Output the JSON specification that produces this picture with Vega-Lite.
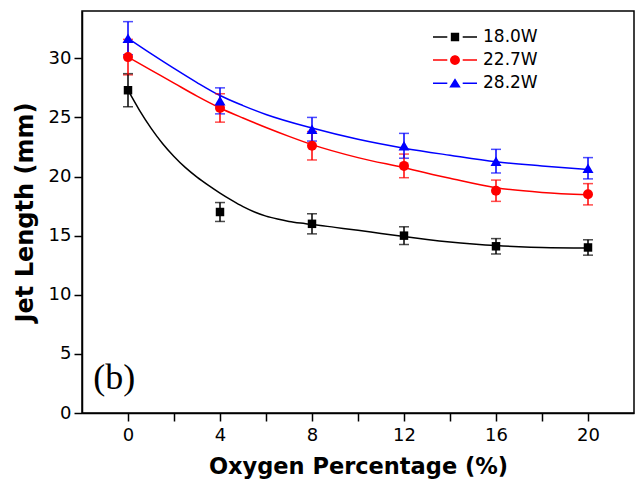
{
  "$schema": "https://vega.github.io/schema/vega-lite/v6.json",
  "width": 552,
  "height": 402,
  "autosize": {"type": "none"},
  "padding": {"left": 82, "top": 11, "right": 2, "bottom": 67},
  "config": {
    "font": "DejaVu Sans",
    "view": {"stroke": "#000000", "strokeWidth": 1.5},
    "axis": {
      "grid": false,
      "domainColor": "#000000",
      "domainWidth": 1.5,
      "tickColor": "#000000",
      "tickWidth": 1.5,
      "tickSize": 8,
      "labelColor": "#000000",
      "labelFont": "DejaVu Sans",
      "labelFontSize": 18,
      "labelOverlap": false,
      "labelFlush": false,
      "titleFont": "DejaVu Sans",
      "titleFontWeight": "bold",
      "titleColor": "#000000"
    }
  },
  "datasets": {
    "measured": [
      {"x": 0, "y": 27.3, "err": 1.4, "series": "18.0W"},
      {"x": 4, "y": 17.0, "err": 0.8, "series": "18.0W"},
      {"x": 8, "y": 16.0, "err": 0.85, "series": "18.0W"},
      {"x": 12, "y": 15.0, "err": 0.75, "series": "18.0W"},
      {"x": 16, "y": 14.1, "err": 0.65, "series": "18.0W"},
      {"x": 20, "y": 14.0, "err": 0.65, "series": "18.0W"},
      {"x": 0, "y": 30.1, "err": 1.5, "series": "22.7W"},
      {"x": 4, "y": 25.8, "err": 1.2, "series": "22.7W"},
      {"x": 8, "y": 22.6, "err": 1.2, "series": "22.7W"},
      {"x": 12, "y": 20.9, "err": 1.0, "series": "22.7W"},
      {"x": 16, "y": 18.8, "err": 0.9, "series": "22.7W"},
      {"x": 20, "y": 18.5, "err": 0.9, "series": "22.7W"},
      {"x": 0, "y": 31.7, "err": 1.4, "series": "28.2W"},
      {"x": 4, "y": 26.4, "err": 1.1, "series": "28.2W"},
      {"x": 8, "y": 24.0, "err": 1.0, "series": "28.2W"},
      {"x": 12, "y": 22.6, "err": 1.05, "series": "28.2W"},
      {"x": 16, "y": 21.3, "err": 1.0, "series": "28.2W"},
      {"x": 20, "y": 20.7, "err": 0.9, "series": "28.2W"}
    ],
    "fit": [
      {"x": 0, "y": 27.3, "series": "18.0W"},
      {"x": 0.5, "y": 25.6, "series": "18.0W"},
      {"x": 1, "y": 24.1, "series": "18.0W"},
      {"x": 1.5, "y": 22.8, "series": "18.0W"},
      {"x": 2, "y": 21.7, "series": "18.0W"},
      {"x": 2.5, "y": 20.75, "series": "18.0W"},
      {"x": 3, "y": 19.95, "series": "18.0W"},
      {"x": 3.5, "y": 19.25, "series": "18.0W"},
      {"x": 4, "y": 18.6, "series": "18.0W"},
      {"x": 4.5, "y": 18.0, "series": "18.0W"},
      {"x": 5, "y": 17.45, "series": "18.0W"},
      {"x": 5.5, "y": 17.0, "series": "18.0W"},
      {"x": 6, "y": 16.65, "series": "18.0W"},
      {"x": 6.5, "y": 16.4, "series": "18.0W"},
      {"x": 7, "y": 16.2, "series": "18.0W"},
      {"x": 7.5, "y": 16.06, "series": "18.0W"},
      {"x": 8, "y": 15.95, "series": "18.0W"},
      {"x": 9, "y": 15.7, "series": "18.0W"},
      {"x": 10, "y": 15.45, "series": "18.0W"},
      {"x": 11, "y": 15.18, "series": "18.0W"},
      {"x": 12, "y": 14.92, "series": "18.0W"},
      {"x": 13, "y": 14.68, "series": "18.0W"},
      {"x": 14, "y": 14.47, "series": "18.0W"},
      {"x": 15, "y": 14.3, "series": "18.0W"},
      {"x": 16, "y": 14.16, "series": "18.0W"},
      {"x": 17, "y": 14.06, "series": "18.0W"},
      {"x": 18, "y": 14.0, "series": "18.0W"},
      {"x": 20, "y": 13.96, "series": "18.0W"},
      {"x": 0, "y": 30.1, "series": "22.7W"},
      {"x": 1, "y": 29.0, "series": "22.7W"},
      {"x": 2, "y": 27.9, "series": "22.7W"},
      {"x": 3, "y": 26.8, "series": "22.7W"},
      {"x": 4, "y": 25.8, "series": "22.7W"},
      {"x": 5, "y": 24.95, "series": "22.7W"},
      {"x": 6, "y": 24.15, "series": "22.7W"},
      {"x": 7, "y": 23.4, "series": "22.7W"},
      {"x": 8, "y": 22.7, "series": "22.7W"},
      {"x": 10, "y": 21.6, "series": "22.7W"},
      {"x": 12, "y": 20.75, "series": "22.7W"},
      {"x": 14, "y": 19.85, "series": "22.7W"},
      {"x": 16, "y": 19.05, "series": "22.7W"},
      {"x": 18, "y": 18.65, "series": "22.7W"},
      {"x": 20, "y": 18.45, "series": "22.7W"},
      {"x": 0, "y": 31.7, "series": "28.2W"},
      {"x": 1, "y": 30.4, "series": "28.2W"},
      {"x": 2, "y": 29.15, "series": "28.2W"},
      {"x": 3, "y": 27.95, "series": "28.2W"},
      {"x": 4, "y": 26.85, "series": "28.2W"},
      {"x": 5, "y": 26.0, "series": "28.2W"},
      {"x": 6, "y": 25.25, "series": "28.2W"},
      {"x": 8, "y": 24.1, "series": "28.2W"},
      {"x": 10, "y": 23.15, "series": "28.2W"},
      {"x": 12, "y": 22.4, "series": "28.2W"},
      {"x": 14, "y": 21.8, "series": "28.2W"},
      {"x": 16, "y": 21.25, "series": "28.2W"},
      {"x": 18, "y": 20.9, "series": "28.2W"},
      {"x": 20, "y": 20.6, "series": "28.2W"}
    ],
    "panel": [
      {"label": "(b)", "x": -0.6, "y": 3.0}
    ]
  },
  "layer": [
    {
      "encoding": {
        "x": {
          "field": "x",
          "type": "quantitative",
          "scale": {"domain": [-2, 22], "nice": false, "zero": false},
          "axis": {
            "title": "Oxygen Percentage (%)",
            "titleFontSize": 22.5,
            "titlePadding": 11,
            "labelPadding": 5,
            "values": [0, 2, 4, 6, 8, 10, 12, 14, 16, 18, 20],
            "labelExpr": "datum.value % 4 === 0 ? datum.label : ''",
            "encode": {"ticks": {"update": {"y2": {"signal": "datum.value % 4 === 0 ? 8 : 4"}}}}
          }
        },
        "y": {
          "field": "y",
          "type": "quantitative",
          "scale": {"domain": [0, 34], "nice": false},
          "axis": {
            "title": "Jet Length (mm)",
            "titleFontSize": 24,
            "titlePadding": 11,
            "labelPadding": 3,
            "values": [0, 2.5, 5, 7.5, 10, 12.5, 15, 17.5, 20, 22.5, 25, 27.5, 30, 32.5],
            "labelExpr": "datum.value % 5 === 0 ? datum.label : ''",
            "encode": {"ticks": {"update": {"x2": {"signal": "datum.value % 5 === 0 ? -8 : -4"}}}}
          }
        },
        "color": {
          "field": "series",
          "type": "nominal",
          "scale": {"domain": ["18.0W", "22.7W", "28.2W"], "range": ["#000000", "#ff0000", "#0000ff"]},
          "legend": {
            "title": null,
            "orient": "none",
            "legendX": 362,
            "legendY": 15,
            "padding": 0,
            "rowPadding": 4.1,
            "symbolSize": 484,
            "symbolStrokeWidth": 0,
            "labelOffset": 17,
            "labelFont": "DejaVu Sans",
            "labelFontSize": 17,
            "labelColor": "#000000",
            "encode": {
              "symbols": {
                "update": {
                  "shape": {"signal": "datum.value === '18.0W' ? 'M-2,-0.07H-0.7V0.07H-2ZM0.7,-0.07H2V0.07H0.7ZM-0.38,-0.38H0.38V0.38H-0.38Z' : datum.value === '22.7W' ? 'M-2,-0.07H-0.7V0.07H-2ZM0.7,-0.07H2V0.07H0.7ZM0.45,0A0.45,0.45,0,1,1,-0.45,0A0.45,0.45,0,1,1,0.45,0Z' : 'M-2,-0.07H-0.7V0.07H-2ZM0.7,-0.07H2V0.07H0.7ZM0,-0.46L0.52,0.4H-0.52Z'"},
                  "size": {"value": 484},
                  "strokeWidth": {"value": 0},
                  "opacity": {"value": 1}
                }
              }
            }
          }
        }
      },
      "layer": [
        {
          "data": {"name": "fit"},
          "mark": {"type": "line", "interpolate": "monotone", "strokeWidth": 1.5}
        },
        {
          "data": {"name": "measured"},
          "mark": {
            "type": "errorbar",
            "ticks": {"size": 10, "thickness": 1.5},
            "rule": {"strokeWidth": 1.5}
          },
          "encoding": {"yError": {"field": "err"}}
        },
        {
          "data": {"name": "measured"},
          "transform": [{"filter": "datum.series === '18.0W'"}],
          "mark": {"type": "point", "shape": "square", "size": 72, "filled": true, "opacity": 1, "strokeWidth": 0}
        },
        {
          "data": {"name": "measured"},
          "transform": [{"filter": "datum.series === '22.7W'"}],
          "mark": {"type": "point", "shape": "circle", "size": 100, "filled": true, "opacity": 1, "strokeWidth": 0}
        },
        {
          "data": {"name": "measured"},
          "transform": [{"filter": "datum.series === '28.2W'"}],
          "mark": {"type": "point", "shape": "triangle-up", "size": 121, "filled": true, "opacity": 1, "strokeWidth": 0}
        }
      ]
    },
    {
      "data": {"name": "panel"},
      "mark": {"type": "text", "font": "Liberation Serif", "fontSize": 36, "align": "center", "baseline": "middle", "color": "#000000"},
      "encoding": {
        "x": {"field": "x", "type": "quantitative"},
        "y": {"field": "y", "type": "quantitative"},
        "text": {"field": "label", "type": "nominal"}
      }
    }
  ]
}
